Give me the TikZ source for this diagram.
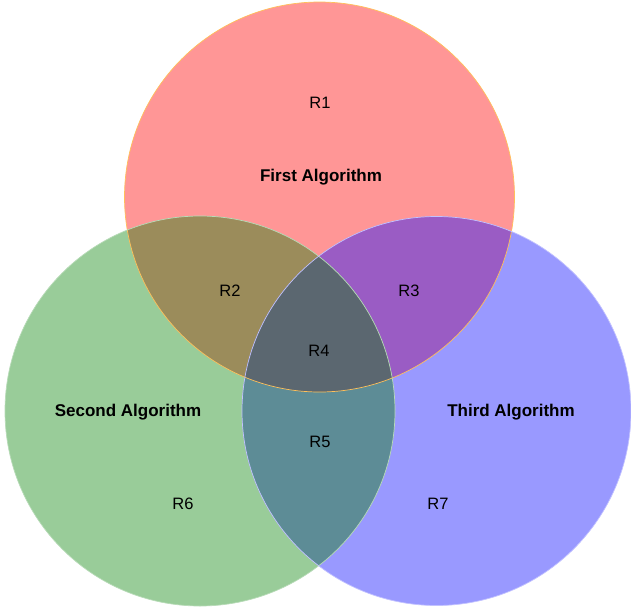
\documentclass[tikz,border=0pt]{standalone}
\usepackage{fontspec}
\setmainfont{Liberation Sans}
\definecolor{cred}{HTML}{FF9696}
\definecolor{cgreen}{HTML}{99CC99}
\definecolor{cblue}{HTML}{9999FF}
\definecolor{crg}{HTML}{9B8C5B}
\definecolor{crb}{HTML}{9A5CC4}
\definecolor{cgb}{HTML}{5D8C96}
\definecolor{crgb}{HTML}{5B6770}
\begin{document}
\begin{tikzpicture}[x=1pt,y=-1pt,
  lbl/.style={font=\fontsize{16.5}{19}\selectfont, text=black},
  title/.style={font=\fontsize{17}{20}\selectfont\bfseries, text=black},
  edge/.style={line width=0.7pt}]
\useasboundingbox (0,0) rectangle (631,611);
\def\red{(319.5,197) circle[radius=195]}
\def\green{(200,411) circle[radius=195]}
\def\blue{(436.5,411) circle[radius=194.5]}
\fill[cred] \red;
\fill[cgreen] \green;
\fill[cblue] \blue;
\begin{scope}\clip \red; \fill[crg] \green; \end{scope}
\begin{scope}\clip \red; \fill[crb] \blue; \end{scope}
\begin{scope}\clip \green; \fill[cgb] \blue; \end{scope}
\begin{scope}\clip \red; \clip \green; \fill[crgb] \blue; \end{scope}
\draw[edge, draw=cred!60!yellow] \red;
\draw[edge, draw=cgreen!70!white] \green;
\draw[edge, draw=cblue!60!white] \blue;
\node[lbl] (r1) at (320,103) {R1};
\node[title] (t1) at (321,177) {First Algorithm};
\node[lbl] (r2) at (230,291) {R2};
\node[lbl] (r3) at (409,291) {R3};
\node[lbl] (r4) at (319,351) {R4};
\node[lbl] (r5) at (320,442) {R5};
\node[lbl] (r6) at (183,504) {R6};
\node[lbl] (r7) at (438,504) {R7};
\node[title] (t2) at (128,412) {Second Algorithm};
\node[title] (t3) at (511,412) {Third Algorithm};
\end{tikzpicture}
\end{document}
